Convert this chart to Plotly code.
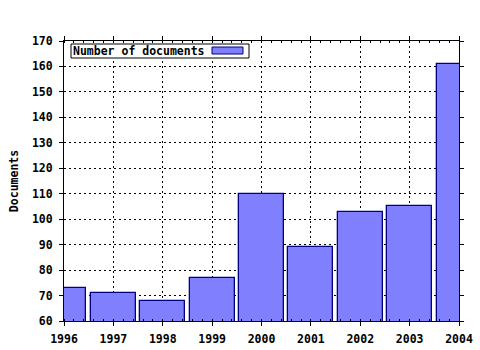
import plotly.graph_objects as go

years = [1996, 1997, 1998, 1999, 2000, 2001, 2002, 2003, 2004]
documents = [73, 71, 68, 77, 110, 89, 103, 105, 161]
series_name = "Number of documents"
y_title = "Documents"

FONT = dict(family="DejaVu Sans Mono", size=11.5, color="black", weight="bold")
FILL = "#8080ff"
EDGE = "#000080"

fig = go.Figure()
fig.add_trace(go.Bar(
    x=years, y=documents, name=series_name, width=0.91,
    marker=dict(color=FILL, line=dict(color=EDGE, width=1.3)),
    showlegend=False,
))

axis_common = dict(
    showline=True, linecolor="black", linewidth=1, mirror="ticks",
    ticks="outside", ticklen=4, tickcolor="black",
    showgrid=True, gridcolor="black", gridwidth=1, griddash="2px,3px",
    zeroline=False, tickfont=FONT, automargin=False,
)

fig.update_xaxes(
    range=[1996, 2004], dtick=1, tick0=1996, ticklabelstandoff=3, **axis_common,
    minor=dict(dtick=0.2, ticks="inside", ticklen=2, tickcolor="black", showgrid=False),
)
fig.update_yaxes(
    range=[60, 170], dtick=10, ticklabelstandoff=4, **axis_common,
    title=dict(text=y_title, font=FONT, standoff=10),
)

# legend box (swatch on the right, as in the reference)
fig.add_shape(type="rect", xref="paper", yref="paper",
              xsizemode="pixel", ysizemode="pixel", xanchor=0, yanchor=1,
              x0=7, x1=185, y0=-3, y1=-17,
              line=dict(color="black", width=1), fillcolor="white", layer="above")
fig.add_shape(type="rect", xref="paper", yref="paper",
              xsizemode="pixel", ysizemode="pixel", xanchor=0, yanchor=1,
              x0=148, x1=179, y0=-6, y1=-13,
              line=dict(color=EDGE, width=1), fillcolor=FILL, layer="above")
fig.add_annotation(text=series_name, xref="paper", yref="paper", x=0, y=1,
                   xanchor="left", yanchor="middle", xshift=7, yshift=-10,
                   showarrow=False, font=FONT)

fig.update_layout(
    width=480, height=350,
    margin=dict(l=64, r=21, t=41, b=29),
    paper_bgcolor="white", plot_bgcolor="white",
    bargap=0,
)

fig.write_html("out.html")
